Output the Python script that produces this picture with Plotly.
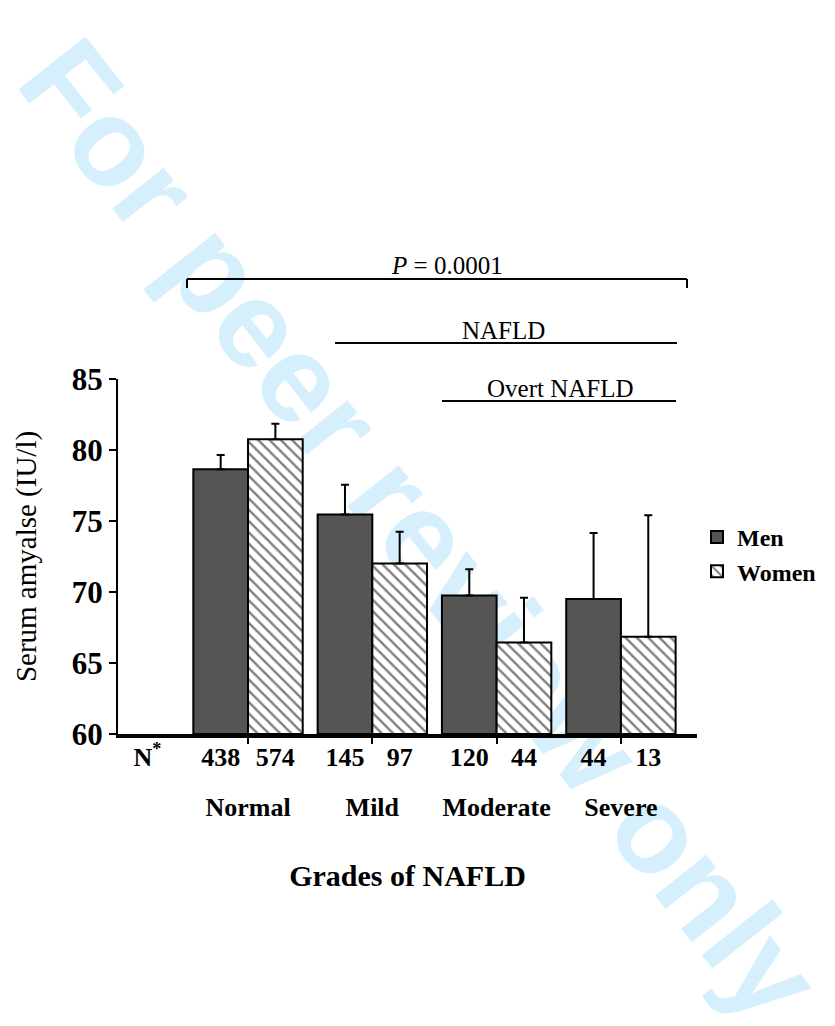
import plotly.graph_objects as go

# ---- data ----
grades = ["Normal", "Mild", "Moderate", "Severe"]
men_mean = [78.65, 75.45, 69.75, 69.5]
men_err = [1.0, 2.1, 1.85, 4.65]
women_mean = [80.75, 72.0, 66.45, 66.85]
women_err = [1.1, 2.25, 3.15, 8.55]
men_n = ["438", "145", "120", "44"]
women_n = ["574", "97", "44", "13"]
series_names = ["Men", "Women"]

W, H = 835, 1026
L, R, T, B = 118, 138, 379, 292

xpos = list(range(len(grades)))
bargap = 0.12
half = (1 - bargap) / 4  # offset of each bar centre from the group centre
xr = [-1.046, 3.612]

serif = "Liberation Serif, Times New Roman, serif"

fig = go.Figure()
fig.add_trace(go.Bar(
    x=xpos, y=[m - 60 for m in men_mean], base=60, name=series_names[0],
    marker=dict(color="#555555", line=dict(color="black", width=2)),
    error_y=dict(type="data", symmetric=False, array=men_err,
                 arrayminus=[0] * 4, color="black", thickness=2, width=4),
))
fig.add_trace(go.Bar(
    x=xpos, y=[m - 60 for m in women_mean], base=60, name=series_names[1],
    marker=dict(color="white", line=dict(color="black", width=2),
                pattern=dict(shape="\\", fgcolor="black", bgcolor="white",
                             size=8, solidity=0.3)),
    error_y=dict(type="data", symmetric=False, array=women_err,
                 arrayminus=[0] * 4, color="black", thickness=2, width=4),
))
# invisible trace to carry the secondary x axis (N labels)
fig.add_trace(go.Scatter(x=[xr[0]], y=[60], xaxis="x2", mode="markers",
                         marker=dict(opacity=0), showlegend=False,
                         hoverinfo="skip"))

n_vals = [-0.81]
n_text = ["N<sup>*</sup>"]
for i in xpos:
    n_vals += [i - half, i + half]
    n_text += [men_n[i], women_n[i]]

fig.update_layout(
    width=W, height=H,
    margin=dict(l=L, r=R, t=T, b=B),
    paper_bgcolor="white", plot_bgcolor="white",
    barmode="group", bargap=bargap, bargroupgap=0,
    font=dict(family=serif, color="black"),
    showlegend=True,
    legend=dict(x=1.0, y=0.617, xanchor="left", yanchor="top",
                font=dict(family=serif, size=24, weight="bold"),
                bgcolor="rgba(0,0,0,0)", itemwidth=30, tracegroupgap=0),
    xaxis=dict(range=xr, tickvals=xpos, ticktext=grades,
               ticks="outside", ticklen=6, tickwidth=2, tickcolor="black",
               showline=True, linewidth=3.5, linecolor="black",
               showgrid=False, zeroline=False, ticklabelstandoff=41,
               tickfont=dict(family=serif, size=26, weight="bold"),
               title=dict(text="Grades of NAFLD", standoff=45,
                          font=dict(family=serif, size=30, weight="bold"))),
    xaxis2=dict(range=xr, overlaying="x", anchor="y", side="bottom",
                tickvals=n_vals, ticktext=n_text, ticks="",
                showline=False, showgrid=False, zeroline=False,
                ticklabelstandoff=5,
                tickfont=dict(family=serif, size=26, weight="bold")),
    yaxis=dict(range=[60, 85], tickvals=[60, 65, 70, 75, 80, 85],
               ticks="outside", ticklen=7, tickwidth=2, tickcolor="black",
               showline=True, linewidth=2, linecolor="black",
               showgrid=False, zeroline=False,
               tickfont=dict(family=serif, size=31, weight="bold"),
               title=dict(text="Serum amyalse (IU/l)", standoff=27,
                          font=dict(family=serif, size=29))),
)

def px2paper(px, py):
    return (px - L) / (W - L - R), (H - B - py) / (H - T - B)

shapes = []
# watermark (behind bars)
cx, cy = px2paper(430, 522)
shapes.append(dict(type="line", xref="paper", yref="paper",
                   x0=cx - 0.01, x1=cx + 0.01, y0=cy, y1=cy,
                   line=dict(width=0, color="rgba(0,0,0,0)"), layer="below",
                   label=dict(text="For peer review only", textangle=51.7,
                              textposition="middle", xanchor="center",
                              yanchor="middle", padding=0,
                              font=dict(family="Liberation Sans, Arial, sans-serif",
                                        size=124, weight="bold",
                                        color="#D5F0FC"))))
# brackets
def hline(x0px, x1px, ypx):
    a0, b0 = px2paper(x0px, ypx)
    a1, _ = px2paper(x1px, ypx)
    return dict(type="line", xref="paper", yref="paper", x0=a0, x1=a1,
                y0=b0, y1=b0, line=dict(color="black", width=2))

def vline(xpx, y0px, y1px):
    a0, b0 = px2paper(xpx, y0px)
    _, b1 = px2paper(xpx, y1px)
    return dict(type="line", xref="paper", yref="paper", x0=a0, x1=a0,
                y0=b0, y1=b1, line=dict(color="black", width=2))

shapes += [hline(187, 687, 279), vline(187, 279, 288), vline(687, 279, 288),
           hline(335, 677, 343), hline(442, 676, 401)]
fig.update_layout(shapes=shapes)

annots = []
for txt, (px, py) in [("<i>P</i> = 0.0001", (447, 265)),
                      ("NAFLD", (503, 330)),
                      ("Overt NAFLD", (560, 388))]:
    ax_, ay_ = px2paper(px, py)
    annots.append(dict(text=txt, x=ax_, y=ay_, xref="paper", yref="paper",
                       xanchor="center", yanchor="middle", showarrow=False,
                       font=dict(family=serif, size=25, color="black")))
fig.update_layout(annotations=annots)

fig.write_html("out.html")
